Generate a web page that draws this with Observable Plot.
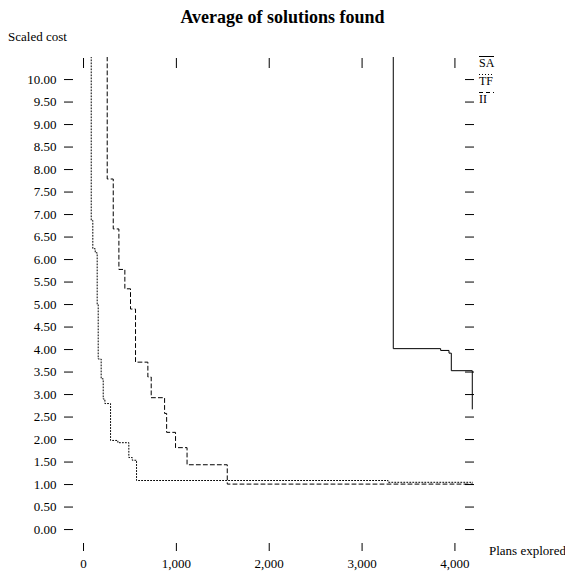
<!DOCTYPE html>
<html>
<head>
<meta charset="utf-8">
<script src="https://cdn.jsdelivr.net/npm/d3@7"></script>
<script src="https://cdn.jsdelivr.net/npm/@observablehq/plot@0.6"></script>
<style>
  body { margin: 0; background: #fff; }
  #chart svg { font-family: "Liberation Serif", "Times New Roman", serif; }
</style>
</head>
<body>
<div id="chart"></div>
<script>
// ---- data ----
const seriesNames = ["SA", "TF", "II"];
const seriesDash = ["none", "1,2", "4,3"];

const saPlans = [0, 3336, 3846, 3936, 3961, 4187];
const saCost  = [12, 4.02, 3.98, 3.92, 3.53, 2.68];

const tfPlans = [0, 83, 100, 126, 147, 158, 190, 212, 230, 291, 370, 488, 525, 571, 3280, 4200];
const tfCost  = [12, 6.87, 6.24, 6.15, 5.01, 3.79, 3.35, 2.90, 2.80, 1.98, 1.93, 1.60, 1.54, 1.09, 1.05, 1.05];

const iiPlans = [0, 255, 320, 381, 445, 506, 560, 693, 729, 873, 895, 991, 1115, 1548, 4200];
const iiCost  = [12, 7.79, 6.68, 5.78, 5.35, 4.90, 3.72, 3.39, 2.93, 2.58, 2.16, 1.82, 1.44, 1.01, 1.01];

const xTicks = [0, 1000, 2000, 3000, 4000];
const yTicks = d3.range(0, 10.01, 0.5);

const titleText = "Average of solutions found";
const yLabel = "Scaled cost";
const xLabel = "Plans explored";

const toRows = (xs, ys) => xs.map((p, i) => ({plans: p, cost: ys[i]}));
const sa = toRows(saPlans, saCost);
const tf = toRows(tfPlans, tfCost);
const ii = toRows(iiPlans, iiCost);

const W = 565, H = 571;
const mL = 73, mR = 92, mT = 57, mB = 28;

const chart = Plot.plot({
  width: W, height: H,
  marginLeft: mL, marginRight: mR, marginTop: mT, marginBottom: mB,
  x: {domain: [-108, 4200]},
  y: {domain: [-0.31, 10.49]},
  style: {fontFamily: "Liberation Serif, Times New Roman, serif", fontSize: "13px", color: "black", background: "white"},
  marks: [
    Plot.axisY({anchor: "left", ticks: yTicks, tickSize: 9, tickPadding: 8, tickFormat: d3.format(".2f"), label: null}),
    Plot.axisY({anchor: "right", ticks: yTicks, tickSize: 9, dx: -9, tickFormat: () => "", label: null}),
    Plot.axisX({anchor: "bottom", ticks: xTicks, tickSize: 8, tickPadding: 7, tickFormat: d => d.toLocaleString("en-US"), label: null}),
    Plot.axisX({anchor: "top", ticks: xTicks, tickSize: 10, dy: 10, tickFormat: () => "", label: null}),
    Plot.line(sa, {x: "plans", y: "cost", curve: "step-after", stroke: "black", strokeWidth: 1, clip: true}),
    Plot.line(tf, {x: "plans", y: "cost", curve: "step-after", stroke: "black", strokeWidth: 1, strokeDasharray: seriesDash[1], clip: true}),
    Plot.line(ii, {x: "plans", y: "cost", curve: "step-after", stroke: "black", strokeWidth: 1, strokeDasharray: seriesDash[2], clip: true})
  ]
});

document.getElementById("chart").appendChild(chart);

// ---- titles, axis labels, legend ----
const svg = d3.select(chart);
svg.append("text").attr("x", 282.5).attr("y", 23).attr("text-anchor", "middle")
  .attr("font-size", 18).attr("font-weight", "bold").attr("fill", "black").text(titleText);
svg.append("text").attr("x", 8).attr("y", 40.5).attr("text-anchor", "start")
  .attr("font-size", 13).attr("fill", "black").text(yLabel);
svg.append("text").attr("x", 489).attr("y", 554.5).attr("text-anchor", "start")
  .attr("font-size", 13).attr("fill", "black").text(xLabel);

const leg = svg.append("g").attr("transform", "translate(479,0)");
seriesNames.forEach((name, i) => {
  const ly = 56 + i * 18;
  leg.append("line").attr("x1", 0).attr("x2", 15).attr("y1", ly + 0.5).attr("y2", ly + 0.5)
    .attr("stroke", "black").attr("stroke-width", 1)
    .attr("stroke-dasharray", seriesDash[i] === "none" ? null : seriesDash[i]);
  leg.append("text").attr("x", 0).attr("y", ly + 11).attr("text-anchor", "start")
    .attr("font-size", 12).attr("fill", "black").text(name);
});
</script>
</body>
</html>
